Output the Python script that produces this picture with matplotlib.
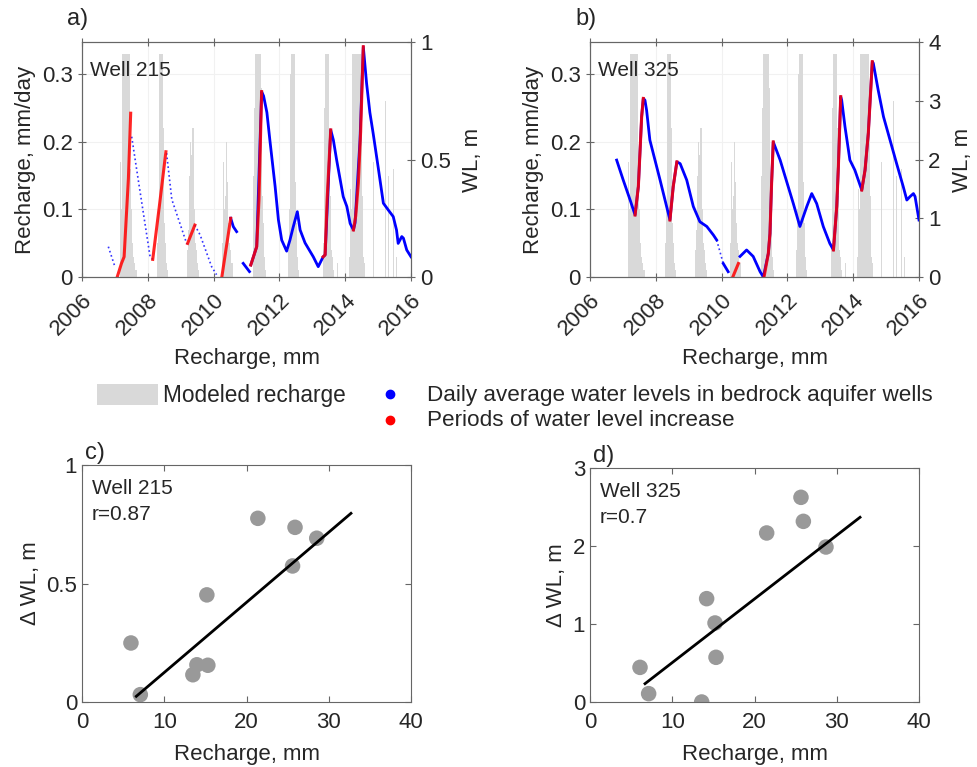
import numpy as np
import matplotlib
matplotlib.use("Agg")
import matplotlib.pyplot as plt
from matplotlib.patches import Rectangle
from matplotlib.lines import Line2D

plt.rcParams['font.family'] = ['Liberation Sans', 'DejaVu Sans']
plt.rcParams['text.color'] = '#262626'
plt.rcParams['axes.labelcolor'] = '#262626'
plt.rcParams['xtick.color'] = '#262626'
plt.rcParams['ytick.color'] = '#262626'

nan = np.nan

# modeled recharge, mm/day: weekly values for each wet season
rch_start = [2007.16, 2008.27, 2009.18, 2010.25, 2011.19, 2012.27, 2013.33, 2014.13]
rch_weekly = [
    [0.17, 0.03, 0.10] + [0.33] * 12 + [0.26, 0.16, 0.10, 0.07, 0.05, 0.04, 0.03, 0.02, 0.02, 0.01, 0.01, 0.01],
    [0.02, 0.05, 0.10, 0.20] + [0.33] * 6 + [0.22, 0.12, 0.08, 0.05, 0.03, 0.02, 0.01, 0.01],
    [0.02, 0.04, 0.07, 0.10, 0.15, 0.26, 0.20, 0.18, 0.22, 0.22, 0.22, 0.16, 0.10, 0.07, 0.05, 0.04, 0.03, 0.02, 0.01, 0.01],
    [0.03, 0.05, 0.17, 0.08, 0.10, 0.12, 0.33, 0.20, 0.14, 0.10, 0.08, 0.06, 0.05, 0.04, 0.03, 0.02, 0.02, 0.01],
    [0.05, 0.15, 0.25] + [0.33] * 10 + [0.28, 0.18, 0.12, 0.08, 0.05, 0.03, 0.02, 0.01],
    [0.04, 0.10, 0.20, 0.30] + [0.33] * 6 + [0.22, 0.14, 0.08, 0.05, 0.03, 0.02, 0.01],
    [0.05, 0.12, 0.25] + [0.33] * 7 + [0.22, 0.12, 0.07, 0.04, 0.03, 0.02, 0.01],
    [0.03, 0.13, 0.08, 0.10] + [0.33] * 15 + [0.25, 0.12, 0.06, 0.03, 0.02, 0.01],
]
# isolated storms
rch_extra_t = [2013.75, 2014.85, 2015.02, 2015.21, 2015.30, 2015.38, 2015.45, 2015.55]
rch_extra_v = [0.02, 0.17, 0.03, 0.26, 0.15, 0.18, 0.16, 0.03]

# Well 215 water level, m
a_sparse_t = [2006.80, 2007.00, nan, 2007.51, 2007.71, 2008.07, 2008.15, nan,
              2008.57, 2008.73, 2009.18, 2009.21, nan, 2009.43, 2009.59, 2009.94, 2010.09]
a_sparse_wl = [0.129, 0.044, nan, 0.597, 0.413, 0.086, 0.075, nan,
               0.527, 0.33, 0.143, 0.143, nan, 0.221, 0.179, 0.044, 0.01]
a_blue_t = [2010.52, 2010.60, 2010.70, nan, 2010.90, 2011.09, nan,
            2011.13, 2011.31, 2011.46, 2011.52, 2011.62, 2011.71, 2011.87, 2011.97, 2012.07,
            2012.22, 2012.32, 2012.42, 2012.545, 2012.63, 2012.78, 2013.03, 2013.18, 2013.33,
            2013.39, 2013.56, 2013.64, 2013.74, 2013.94, 2014.05, 2014.15, 2014.25, 2014.30,
            2014.45, 2014.55, 2014.65, 2014.75, 2014.85, 2015.00, 2015.16, 2015.31, 2015.46,
            2015.56, 2015.61, 2015.72, 2015.77, 2015.87, 2016.00]
a_blue_wl = [0.25, 0.214, 0.193, nan, 0.058, 0.023, nan,
             0.051, 0.129, 0.789, 0.77, 0.70, 0.583, 0.385, 0.243, 0.157,
             0.11, 0.157, 0.213, 0.278, 0.20, 0.145, 0.086, 0.044, 0.086,
             0.094, 0.626, 0.583, 0.498, 0.342, 0.30, 0.228, 0.20, 0.23,
             0.583, 0.98, 0.824, 0.70, 0.611, 0.469, 0.314, 0.285, 0.257,
             0.20, 0.143, 0.172, 0.165, 0.115, 0.086]
a_red_t = [2007.07, 2007.20, 2007.28, 2007.33, 2007.41, 2007.48, nan,
           2008.15, 2008.35, 2008.55, nan,
           2009.21, 2009.43, nan,
           2010.25, 2010.52, nan,
           2011.13, 2011.31, 2011.38, 2011.46, nan,
           2013.33, 2013.39, 2013.45, 2013.56, nan,
           2014.25, 2014.32, 2014.40, 2014.47, 2014.55]
a_red_wl = [0.0, 0.058, 0.086, 0.214, 0.418, 0.697, nan,
            0.075, 0.30, 0.533, nan,
            0.143, 0.221, nan,
            0.0, 0.25, nan,
            0.051, 0.129, 0.33, 0.789, nan,
            0.086, 0.094, 0.33, 0.626, nan,
            0.20, 0.26, 0.40, 0.62, 0.98]

# Well 325 water level, m
b_sparse_t = [2009.85, 2010.05]
b_sparse_wl = [0.63, 0.23]
b_blue_t = [2006.81, 2007.01, 2007.22, 2007.37, 2007.47, 2007.57, 2007.62, 2007.67, 2007.72,
            2007.82, 2008.13, 2008.43, 2008.53, 2008.64, 2008.74, 2008.94, 2009.14, 2009.34,
            2009.55, 2009.75, 2009.85, nan, 2010.05, 2010.20, nan, 2010.56, 2010.76, 2010.96,
            2011.17, 2011.27, 2011.42, 2011.47, 2011.52, 2011.57, 2011.78, 2011.98, 2012.18,
            2012.38, 2012.59, 2012.74, 2012.89, 2013.09, 2013.29, 2013.40, 2013.50, 2013.55,
            2013.62, 2013.65, 2013.75, 2013.90, 2014.05, 2014.26, 2014.36, 2014.46, 2014.58,
            2014.61, 2014.76, 2014.92, 2015.12, 2015.32, 2015.52, 2015.63, 2015.73, 2015.83,
            2015.88, 2016.00]
b_blue_wl = [1.99, 1.65, 1.31, 1.055, 1.54, 2.73, 3.04, 3.01, 2.84,
             2.33, 1.65, 0.97, 1.54, 1.96, 1.93, 1.65, 1.20, 0.94,
             0.86, 0.715, 0.63, nan, 0.23, 0.09, nan, 0.35, 0.46, 0.35,
             0.09, 0.0, 0.40, 0.74, 1.60, 2.30, 1.99, 1.62, 1.25,
             0.86, 1.20, 1.42, 1.25, 0.86, 0.57, 0.46, 1.20, 1.88,
             3.07, 3.01, 2.56, 1.99, 1.82, 1.48, 1.82, 2.45, 3.665,
             3.64, 3.18, 2.73, 2.33, 1.93, 1.54, 1.31, 1.37, 1.42,
             1.37, 0.97]
b_red_t = [2007.37, 2007.47, 2007.57, 2007.62, nan,
           2008.43, 2008.53, 2008.64, nan,
           2010.34, 2010.51, nan,
           2011.29, 2011.42, 2011.47, 2011.52, 2011.57, nan,
           2013.40, 2013.50, 2013.55, 2013.62, nan,
           2014.26, 2014.36, 2014.46, 2014.58]
b_red_wl = [1.055, 1.54, 2.73, 3.04, nan,
            0.97, 1.54, 1.96, nan,
            0.0, 0.23, nan,
            0.0, 0.40, 0.74, 1.60, 2.30, nan,
            0.46, 1.20, 1.88, 3.07, nan,
            1.48, 1.82, 2.45, 3.665]

# event totals: recharge (mm) vs water level rise (m)
c_rch = [5.95, 7.09, 13.48, 13.97, 15.3, 15.18, 21.38, 25.9, 25.6, 28.54]
c_dwl = [0.249, 0.031, 0.115, 0.157, 0.155, 0.452, 0.775, 0.737, 0.574, 0.691]
c_fit_x = [6.6, 32.7]
c_fit_y = [0.024, 0.796]
d_rch = [6.08, 7.13, 13.58, 14.18, 15.2, 15.32, 21.48, 25.65, 25.94, 28.69]
d_dwl = [0.444, 0.107, 0.0, 1.325, 1.013, 0.573, 2.167, 2.624, 2.316, 1.987]
d_fit_x = [6.69, 32.83]
d_fit_y = [0.235, 2.368]

W, H = 977, 767
fig = plt.figure(figsize=(W / 100, H / 100), dpi=100)
spine_col = '#666666'


def px_axes(l, t, r, b):
    return fig.add_axes([l / W, 1 - b / H, (r - l) / W, (b - t) / H])


rch_t, rch_v = [], []
for start, vals in zip(rch_start, rch_weekly):
    for i, v in enumerate(vals):
        rch_t.append(start + i / 52)
        rch_v.append(v)
rch_t += rch_extra_t
rch_v += rch_extra_v


def top_panel(ax, sp_t, sp_wl, bl_t, bl_wl, rd_t, rd_wl, wl_max, wl_ticks, letter, well):
    ax.bar(rch_t, rch_v, width=1 / 52, align='edge', color='#d9d9d9', linewidth=0, zorder=1)
    ax.set_xlim(2006, 2016)
    ax.set_ylim(0, 0.348)
    ax.set_yticks([0, 0.1, 0.2, 0.3])
    ax.set_yticklabels(['0', '0.1', '0.2', '0.3'])
    ax.set_xticks(range(2006, 2017, 2))
    ax.set_xticklabels([str(y) for y in range(2006, 2017, 2)], rotation=45,
                       ha='right', va='top', rotation_mode='anchor')
    ax.grid(True, color='#f1f1f1', linewidth=0.8, zorder=0)
    ax.set_axisbelow(True)
    ax.tick_params(axis='both', direction='inout', length=6, labelsize=16, color=spine_col)
    ax.tick_params(axis='x', top=True, pad=6)
    ax.set_ylabel('Recharge, mm/day', fontsize=16, labelpad=4)
    ax.set_xlabel('Recharge, mm', fontsize=16, labelpad=6)
    for s in ax.spines.values():
        s.set_color(spine_col)
    ax.text(0.025, 0.88, well, transform=ax.transAxes, fontsize=15, va='center')
    ax.text(-0.045, 1.1, letter, transform=ax.transAxes, fontsize=17, va='center')

    ax2 = ax.twinx()
    ax2.plot(sp_t, sp_wl, linestyle=':', color='#3333ff', linewidth=1.2)
    ax2.plot(bl_t, bl_wl, color='#0000ff', linewidth=2.0)
    ax2.plot(rd_t, rd_wl, color='#ff0000', linewidth=2.2, alpha=0.85)
    ax2.set_ylim(0, wl_max)
    ax2.set_xlim(2006, 2016)
    ax2.set_yticks(wl_ticks)
    ax2.set_yticklabels([('%g' % v) for v in wl_ticks])
    ax2.tick_params(axis='y', direction='inout', length=6, labelsize=16, color=spine_col)
    ax2.set_ylabel('WL, m', fontsize=16, labelpad=8)
    for s in ax2.spines.values():
        s.set_color(spine_col)


ax_a = px_axes(82, 42, 411, 277)
top_panel(ax_a, a_sparse_t, a_sparse_wl, a_blue_t, a_blue_wl, a_red_t, a_red_wl,
          1.0, [0, 0.5, 1], 'a)', 'Well 215')
ax_b = px_axes(590, 42, 919, 277)
top_panel(ax_b, b_sparse_t, b_sparse_wl, b_blue_t, b_blue_wl, b_red_t, b_red_wl,
          4.0, [0, 1, 2, 3, 4], 'b)', 'Well 325')


def bottom_panel(ax, x, y, fx, fy, ymax, yticks, ylabels, letter, well, r):
    ax.scatter(x, y, s=125, color='#999999', edgecolors='none', zorder=2)
    ax.plot(fx, fy, color='black', linewidth=2, zorder=3)
    ax.set_xlim(0, 40)
    ax.set_ylim(0, ymax)
    ax.set_xticks([0, 10, 20, 30, 40])
    ax.set_yticks(yticks)
    ax.set_yticklabels(ylabels)
    ax.tick_params(axis='both', direction='in', length=4, labelsize=16, color=spine_col,
                   top=True, right=True)
    ax.tick_params(axis='x', pad=7)
    for s in ax.spines.values():
        s.set_color(spine_col)
    ax.set_xlabel('Recharge, mm', fontsize=16, labelpad=8)
    ax.set_ylabel('\u0394 WL, m', fontsize=16, labelpad=4)
    ax.text(0.03, 0.90, well, transform=ax.transAxes, fontsize=15, va='center')
    ax.text(0.03, 0.79, r, transform=ax.transAxes, fontsize=15, va='center')
    ax.text(0.01, 1.05, letter, transform=ax.transAxes, fontsize=17, va='center')


ax_c = px_axes(82, 465, 411, 702)
bottom_panel(ax_c, c_rch, c_dwl, c_fit_x, c_fit_y, 1.0, [0, 0.5, 1], ['0', '0.5', '1'],
             'c)', 'Well 215', 'r=0.87')
ax_d = px_axes(590, 468, 919, 702)
bottom_panel(ax_d, d_rch, d_dwl, d_fit_x, d_fit_y, 3.0, [0, 1, 2, 3], ['0', '1', '2', '3'],
             'd)', 'Well 325', 'r=0.7')

# shared legend
fig.patches.append(Rectangle((97 / W, 1 - 405 / H), 61 / W, 21 / H, transform=fig.transFigure,
                             facecolor='#d9d9d9', edgecolor='none'))
fig.text(163 / W, 1 - 395 / H, 'Modeled recharge', fontsize=16.3, va='center')
fig.lines.append(Line2D([390 / W], [1 - 394 / H], transform=fig.transFigure, marker='o',
                        markersize=6, color='#0000ff', linestyle='none'))
fig.lines.append(Line2D([390 / W], [1 - 420 / H], transform=fig.transFigure, marker='o',
                        markersize=6, color='#ff0000', linestyle='none'))
fig.text(427 / W, 1 - 395 / H, 'Daily average water levels in bedrock aquifer wells',
         fontsize=16.2, va='center')
fig.text(427 / W, 1 - 421 / H, 'Periods of water level increase', fontsize=16.2, va='center')

fig.savefig('out.png', dpi=100)
